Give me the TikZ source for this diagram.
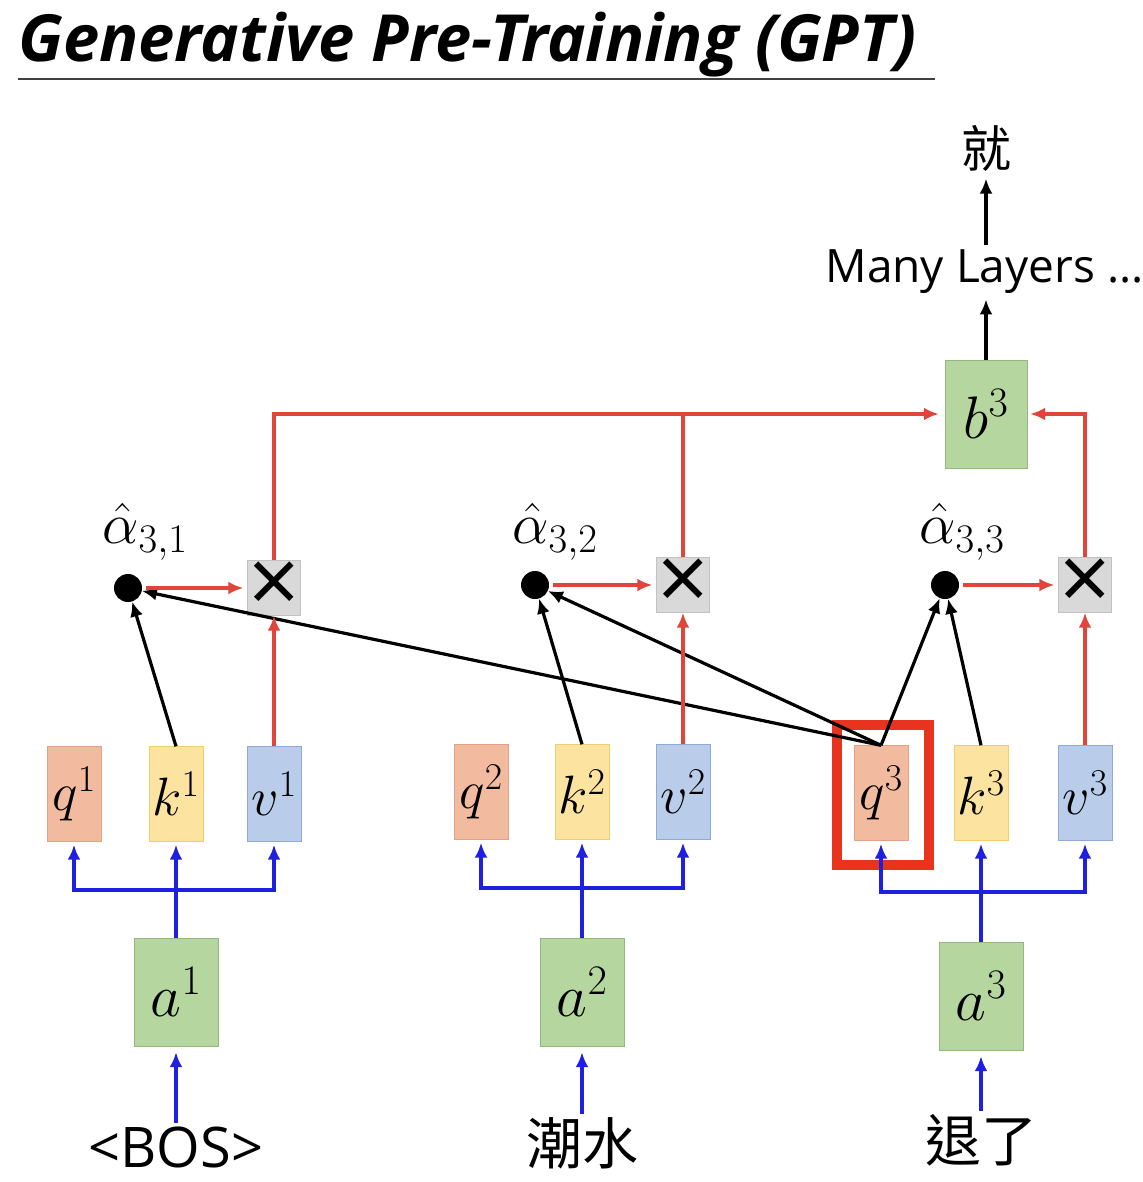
\documentclass[tikz,border=0pt]{standalone}
\usepackage{fix-cm}
\usepackage{fontspec}
\setmainfont{Open Sans}
\newfontfamily\cjk{Noto Sans CJK TC}
\usetikzlibrary{arrows.meta}

\definecolor{qfill}{HTML}{F2BA9F}
\definecolor{qline}{HTML}{E3A286}
\definecolor{kfill}{HTML}{FCE3A0}
\definecolor{kline}{HTML}{F2CD6E}
\definecolor{vfill}{HTML}{B9CDEA}
\definecolor{vline}{HTML}{90AAD6}
\definecolor{gfill}{HTML}{B6D6A0}
\definecolor{gline}{HTML}{93B77C}
\definecolor{mfill}{HTML}{D9D9D9}
\definecolor{mline}{HTML}{C2C2C2}
\definecolor{arrblue}{HTML}{1F1FE0}
\definecolor{arrred}{HTML}{E0443A}
\definecolor{hlred}{HTML}{E8341F}

\begin{document}
\begin{tikzpicture}[x=1pt,y=-1pt,>={Latex[length=15pt,width=13pt]},
  vecbox/.style={draw, minimum width=54pt, minimum height=95pt, inner sep=0pt, font=\fontsize{54}{60}\selectfont},
  qbox/.style={vecbox, draw=qline, fill=qfill},
  kbox/.style={vecbox, draw=kline, fill=kfill},
  vbox/.style={vecbox, draw=vline, fill=vfill},
  abox/.style={draw=gline, fill=gfill, minimum width=84pt, minimum height=108pt, inner sep=0pt, font=\fontsize{60}{66}\selectfont},
  mulbox/.style={draw=mline, fill=mfill, minimum width=53pt, minimum height=55pt, inner sep=0pt, font=\fontsize{90}{90}\selectfont},
  attn/.style={circle, fill=black, minimum size=28pt, inner sep=0pt},
  alab/.style={font=\fontsize{58}{60}\selectfont, inner sep=0pt},
  word/.style={font=\fontsize{56}{60}\selectfont},
  bluearr/.style={->, draw=arrblue, line width=3.5pt},
  blueline/.style={draw=arrblue, line width=3.5pt},
  redarr/.style={->, draw=arrred, line width=3.2pt},
  redline/.style={draw=arrred, line width=3.2pt},
  blackarr/.style={->, line width=3.2pt},
]
\useasboundingbox (0,0) rectangle (1142,1182);

% title
\node[anchor=base west, inner sep=0pt, font=\fontsize{65}{70}\selectfont\bfseries\itshape] (title) at (18,62) {Generative Pre-Training (GPT)};
\draw[line width=2pt, black!75] (18,79) -- (935,79);

% highlight
\node[draw=hlred, line width=10pt, minimum width=92pt, minimum height=140pt, inner sep=0pt] (hl) at (883,795) {};

% q k v
\node[qbox] (q1) at (74,794) {$q^1$};
\node[kbox] (k1) at (176,794) {$k^1$};
\node[vbox] (v1) at (274,794) {$v^1$};
\node[qbox] (q2) at (481,792) {$q^2$};
\node[kbox] (k2) at (582,792) {$k^2$};
\node[vbox] (v2) at (683,792) {$v^2$};
\node[qbox] (q3) at (881,793) {$q^3$};
\node[kbox] (k3) at (981,793) {$k^3$};
\node[vbox] (v3) at (1085,793) {$v^3$};

% inputs
\node[abox] (a1) at (176,992) {$a^1$};
\node[abox] (a2) at (582,992) {$a^2$};
\node[abox] (a3) at (981,996) {$a^3$};
\node[word] (bos) at (176,1147) {<BOS>};
\node[word] (tok2) at (582,1143) {\cjk 潮水};
\node[word] (tok3) at (981,1140) {\cjk 退了};

% attention
\node[attn] (al1) at (128,588) {};
\node[attn] (al2) at (535,585) {};
\node[attn] (al3) at (945,585) {};
\node[alab] (lab1) at (145,532) {$\hat{\alpha}_{3,1}$};
\node[alab] (lab2) at (555,532) {$\hat{\alpha}_{3,2}$};
\node[alab] (lab3) at (962,532) {$\hat{\alpha}_{3,3}$};
\node[mulbox] (x1) at (274,588) {×};
\node[mulbox] (x2) at (683,585) {×};
\node[mulbox] (x3) at (1085,585) {×};

% output
\node[abox, minimum width=82pt] (b3) at (986,414) {$b^3$};
\node[anchor=west, font=\fontsize{46}{50}\selectfont] (many) at (822,272) {Many Layers ...};
\node[font=\fontsize{50}{56}\selectfont\cjk] (jiu) at (986,148) {就};

% blue
\coordinate (j1) at (176,890);
\coordinate (j2) at (582,888);
\coordinate (j3) at (981,892);
\draw[blueline] (a1) -- (j1);
\draw[bluearr, shorten >=3pt] (j1) -| (q1);
\draw[bluearr, shorten >=3pt] (j1) -- (k1);
\draw[bluearr, shorten >=3pt] (j1) -| (v1);
\draw[blueline] (a2) -- (j2);
\draw[bluearr, shorten >=3pt] (j2) -| (q2);
\draw[bluearr, shorten >=3pt] (j2) -- (k2);
\draw[bluearr, shorten >=3pt] (j2) -| (v2);
\draw[blueline] (a3) -- (j3);
\draw[bluearr, shorten >=3pt] (j3) -| (q3);
\draw[bluearr, shorten >=3pt] (j3) -- (k3);
\draw[bluearr, shorten >=3pt] (j3) -| (v3);
\draw[bluearr, shorten >=6pt] (bos) -- (a1);
\draw[bluearr, shorten >=6pt] (tok2) -- (a2);
\draw[bluearr, shorten >=6pt] (tok3) -- (a3);

% black
\draw[blackarr] (k1.north) -- (al1);
\draw[blackarr] (k2.north) -- (al2);
\draw[blackarr] (k3.north) -- (al3);
\draw[blackarr] (q3.north) -- (al1);
\draw[blackarr] (q3.north) -- (al2);
\draw[blackarr] (q3.north) -- (al3);

% red
\draw[redarr, shorten >=4pt, shorten <=4pt] (al1) -- (x1);
\draw[redarr, shorten >=4pt, shorten <=4pt] (al2) -- (x2);
\draw[redarr, shorten >=4pt, shorten <=4pt] (al3) -- (x3);
\draw[redarr] (v1) -- (x1);
\draw[redarr] (v2) -- (x2);
\draw[redarr] (v3) -- (x3);
\draw[redarr, shorten >=6pt] (x1) |- (b3);
\draw[redline] (x2) -- (x2 |- b3);
\draw[redarr, shorten >=3pt] (x3) |- (b3);

% top
\draw[blackarr, shorten >=2pt] (b3) -- (b3 |- many.south);
\draw[blackarr, shorten <=2pt, shorten >=4pt] (b3 |- many.north) -- (jiu);
\end{tikzpicture}
\end{document}
